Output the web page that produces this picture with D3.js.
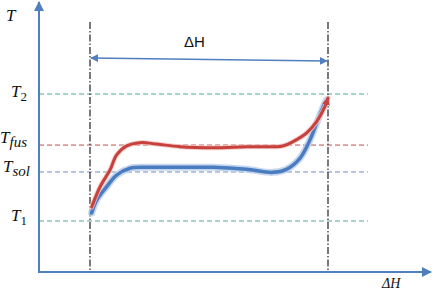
<!DOCTYPE html>
<html><head><meta charset="utf-8">
<script src="https://cdn.jsdelivr.net/npm/d3@7"></script>
<style>html,body{margin:0;padding:0;background:#fff;}svg{display:block;}</style>
</head><body>
<script>
// Reference levels (T normalized: T1=0, T2=1)
const levelNames = ["T2", "Tfus", "Tsol", "T1"];
const levelValues = [1.0, 0.598, 0.386, 0.0];
const levelColors = ["#4fa88a", "#c0504d", "#6f8fbf", "#4fa88a"];
// ΔH markers (start/end of transition)
const dhMarks = [0, 1];
// Red curve (fusion / heating)
const redX = [0.007, 0.042, 0.084, 0.112, 0.154, 0.21, 0.28, 0.378, 0.517, 0.657, 0.81, 0.853, 0.91, 0.952, 0.987, 1.0];
const redY = [0.110, 0.268, 0.402, 0.520, 0.591, 0.617, 0.606, 0.585, 0.577, 0.585, 0.591, 0.625, 0.693, 0.782, 0.900, 0.969];
// Blue curve (solidification)
const blueX = [0.007, 0.028, 0.07, 0.112, 0.168, 0.238, 0.378, 0.517, 0.657, 0.769, 0.825, 0.882, 0.924, 0.952, 0.98, 0.994];
const blueY = [0.063, 0.165, 0.270, 0.362, 0.415, 0.423, 0.423, 0.423, 0.407, 0.383, 0.407, 0.494, 0.638, 0.769, 0.900, 0.953];

const W = 432, H = 291;
const x = d3.scaleLinear().domain([0, 1]).range([90, 328]);
const y = d3.scaleLinear().domain([0, 1]).range([221, 94]);
const axX0 = 39, axY0 = 272;

const svg = d3.select("body").append("svg").attr("width", W).attr("height", H);
const defs = svg.append("defs");
function marker(id, color, orient, size) {
  defs.append("marker").attr("id", id).attr("viewBox", "0 0 10 10")
    .attr("refX", 9).attr("refY", 5).attr("markerWidth", size).attr("markerHeight", size)
    .attr("orient", orient).attr("markerUnits", "strokeWidth")
    .append("path").attr("d", "M0,0 L10,5 L0,10 z").attr("fill", color);
}
marker("ax", "#4f7fbf", "auto", 5);
marker("dh", "#4f7fbf", "auto-start-reverse", 5);
marker("rd", "#c8413c", "auto", 2.6);

// Horizontal dashed level lines
svg.selectAll(".lvl").data(levelValues).enter().append("line")
  .attr("x1", axX0).attr("x2", 368)
  .attr("y1", d => y(d)).attr("y2", d => y(d))
  .attr("stroke", (d, i) => levelColors[i]).attr("stroke-width", 1)
  .attr("stroke-dasharray", "5,3");

// Vertical dash-dot lines
svg.selectAll(".vl").data(dhMarks).enter().append("line")
  .attr("x1", d => x(d)).attr("x2", d => x(d))
  .attr("y1", 22).attr("y2", axY0)
  .attr("stroke", "#222").attr("stroke-width", 1.2)
  .attr("stroke-dasharray", "7,2,1.5,2");

// Axes
svg.append("line").attr("x1", axX0).attr("y1", axY0).attr("x2", axX0).attr("y2", 2)
  .attr("stroke", "#4f7fbf").attr("stroke-width", 2).attr("marker-end", "url(#ax)");
svg.append("line").attr("x1", axX0 - 1).attr("y1", axY0).attr("x2", 431).attr("y2", axY0)
  .attr("stroke", "#4f7fbf").attr("stroke-width", 2).attr("marker-end", "url(#ax)");

// ΔH double arrow
svg.append("line").attr("x1", x(0) + 1).attr("y1", 58).attr("x2", x(1) - 1).attr("y2", 61)
  .attr("stroke", "#4f7fbf").attr("stroke-width", 1.6)
  .attr("marker-start", "url(#dh)").attr("marker-end", "url(#dh)");

// Curves
const line = d3.line().x(d => x(d[0])).y(d => y(d[1])).curve(d3.curveCatmullRom.alpha(0.5));
const blueData = blueX.map((v, i) => [v, blueY[i]]);
const redData = redX.map((v, i) => [v, redY[i]]);
svg.append("path").attr("d", line(blueData)).attr("fill", "none")
  .attr("stroke", "#b9cdea").attr("stroke-width", 7).attr("stroke-linecap", "round").attr("opacity", 0.8);
svg.append("path").attr("d", line(blueData)).attr("fill", "none")
  .attr("stroke", "#4a7cc0").attr("stroke-width", 3.5).attr("stroke-linecap", "round");
svg.append("path").attr("d", line(redData)).attr("fill", "none")
  .attr("stroke", "#f0c4c2").attr("stroke-width", 5).attr("stroke-linecap", "round").attr("opacity", 0.8);
svg.append("path").attr("d", line(redData)).attr("fill", "none")
  .attr("stroke", "#c8413c").attr("stroke-width", 3).attr("stroke-linecap", "round")
  .attr("marker-end", "url(#rd)");

// Labels
function tLabel(xp, yp, sub) {
  const t = svg.append("text").attr("x", xp).attr("y", yp)
    .attr("font-family", "'Liberation Serif', serif").attr("font-style", "italic")
    .attr("font-size", 17).attr("fill", "#111");
  t.append("tspan").text("T");
  if (sub) t.append("tspan").attr("dy", 4).attr("font-size", sub === "1" || sub === "2" ? 13 : 15)
    .attr("font-style", sub === "1" || sub === "2" ? "normal" : "italic").text(sub);
}
tLabel(6, 21, null);
tLabel(11, 97, "2");
tLabel(0, 143, "fus");
tLabel(3, 172, "sol");
tLabel(11, 221, "1");

svg.append("text").attr("x", 184).attr("y", 47)
  .attr("font-family", "'Liberation Sans', 'DejaVu Sans', sans-serif").attr("font-size", 15)
  .attr("fill", "#111").text("ΔH");
svg.append("text").attr("x", 382).attr("y", 288)
  .attr("font-family", "'Liberation Serif', serif").attr("font-style", "italic").attr("font-size", 14)
  .attr("fill", "#111").text("ΔH");
</script>
</body></html>
